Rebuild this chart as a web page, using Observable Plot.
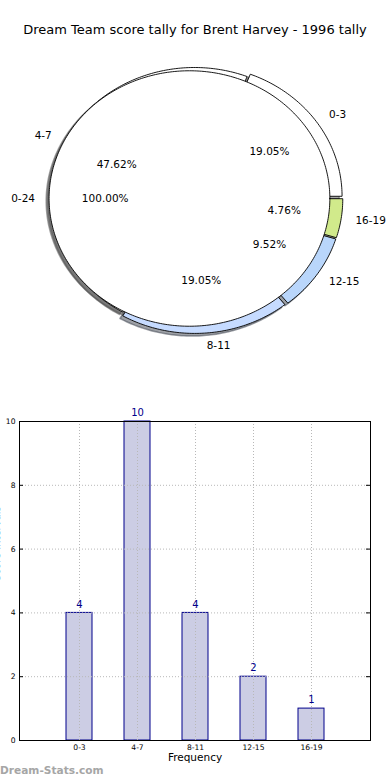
<!DOCTYPE html>
<html><head><meta charset="utf-8">
<script src="https://cdn.jsdelivr.net/npm/d3@7"></script>
<script src="https://cdn.jsdelivr.net/npm/@observablehq/plot@0.6"></script>
<style>
body{margin:0;background:#fff;width:390px;height:780px;position:relative;overflow:hidden;font-family:"DejaVu Sans",sans-serif}
#title{position:absolute;left:0;width:390px;top:21px;text-align:center;font-size:13px;line-height:18px;color:#000;white-space:nowrap}
#pie{position:absolute;left:0;top:0}
#bar{position:absolute;left:0;top:400px}
#wm{position:absolute;left:0;top:764px;font-size:10.6px;line-height:12px;font-weight:bold;color:#a6a6a6}
</style></head><body>
<div id="pie"></div>
<div id="title">Dream Team score tally for Brent Harvey - 1996 tally</div>
<div id="bar"></div>
<div id="wm">Dream-Stats.com</div>
<script>
// ---- data ----
const categories = ["0-3", "4-7", "8-11", "12-15", "16-19"];
const counts = [4, 10, 4, 2, 1];
const innerLabel = "0-24";
const yTicks = [0, 2, 4, 6, 8, 10];
const xLabel = "Frequency";
const yLabel = "Score Intervals";

// ---- style ----
const sliceColors = ["#ffffff", "#ffffff", "#c6dbff", "#b9d6fb", "#d1ea8b"];
const explode = [0.03, 0, 0.03, 0.03, 0.03];
const innerExplode = 0.035, innerRadius = 0.975;
const PX = 144, PY = 131, CX = 194, CY = 198, PH = 370;
const SHX = -0.02 * PX, SHY = 0.02 * PY;

const total = d3.sum(counts);
const rad = Math.PI / 180;
function wedge(ox, oy, r, a0, a1, apex) {
  const pts = [];
  if (apex) pts.push({x: ox, y: oy});
  const n = Math.max(8, Math.ceil((a1 - a0) / 1));
  for (let k = 0; k <= n; k++) {
    const a = (a0 + (a1 - a0) * k / n) * rad;
    pts.push({x: ox + r * Math.cos(a), y: oy + r * Math.sin(a)});
  }
  return pts;
}
function shade(c) {
  const col = d3.rgb(c);
  return d3.rgb(col.r * 0.3, col.g * 0.3, col.b * 0.3).formatHex();
}

let acc = 0;
const slices = categories.map((cat, i) => {
  const a0 = acc / total * 360;
  acc += counts[i];
  const a1 = acc / total * 360;
  const am = (a0 + a1) / 2 * rad;
  const e = explode[i];
  const ox = e * Math.cos(am), oy = e * Math.sin(am);
  return {
    cat, pct: (counts[i] / total * 100).toFixed(2) + "%",
    color: sliceColors[i], pts: wedge(ox, oy, 1, a0, a1, true),
    lx: ox + 1.1 * Math.cos(am), ly: oy + 1.1 * Math.sin(am),
    px: ox + 0.6 * Math.cos(am), py: oy + 0.6 * Math.sin(am)
  };
});
const inner = {
  cat: innerLabel, pct: (100).toFixed(2) + "%",
  pts: wedge(-innerExplode, 0, innerRadius, 0, 360, false),
  lx: -innerExplode - 1.1 * innerRadius, ly: 0,
  px: -innerExplode - 0.6 * innerRadius, py: 0
};

const pieMarks = [];
for (const s of slices) {
  pieMarks.push(Plot.line(s.pts, {x: "x", y: "y", curve: "linear-closed", fill: shade(s.color), fillOpacity: 0.5, stroke: shade(s.color), strokeOpacity: 0.5, dx: SHX, dy: SHY}));
}
pieMarks.push(Plot.line(inner.pts, {x: "x", y: "y", curve: "linear-closed", fill: shade("#ffffff"), fillOpacity: 0.5, stroke: shade("#ffffff"), strokeOpacity: 0.5, dx: SHX, dy: SHY}));
for (const s of slices) {
  pieMarks.push(Plot.line(s.pts, {x: "x", y: "y", curve: "linear-closed", fill: s.color, stroke: "#000", strokeWidth: 0.9}));
}
pieMarks.push(Plot.line(inner.pts, {x: "x", y: "y", curve: "linear-closed", fill: "#ffffff", stroke: "#000", strokeWidth: 0.9}));
const allLab = [...slices, inner];
pieMarks.push(Plot.text(allLab.filter(d => d.lx >= 0), {x: "lx", y: "ly", text: "cat", textAnchor: "start", fill: "#000"}));
pieMarks.push(Plot.text(allLab.filter(d => d.lx < 0), {x: "lx", y: "ly", text: "cat", textAnchor: "end", fill: "#000"}));
pieMarks.push(Plot.text(allLab, {x: "px", y: "py", text: "pct", textAnchor: "middle", fill: "#000"}));

const pie = Plot.plot({
  width: 390, height: PH, margin: 0,
  x: {domain: [-CX / PX, (390 - CX) / PX], axis: null},
  y: {domain: [(CY - PH) / PY, CY / PY], axis: null},
  style: {fontFamily: "DejaVu Sans", fontSize: "10.5px", background: "transparent", overflow: "visible"},
  marks: pieMarks
});
document.getElementById("pie").appendChild(pie);

// ---- bar chart ----
const barData = categories.map((c, i) => ({cat: c, n: counts[i]}));
const bar = Plot.plot({
  width: 390, height: 372,
  marginTop: 21, marginBottom: 32, marginLeft: 19, marginRight: 20,
  x: {domain: categories, type: "band", paddingInner: 0.556, paddingOuter: 0.778, align: 0.5, tickSize: 0, tickPadding: 4, label: null},
  y: {domain: [0, 10], ticks: yTicks, tickSize: 0, tickPadding: 4, label: null},
  style: {fontFamily: "DejaVu Sans", fontSize: "7.6px", color: "#000", background: "transparent", overflow: "visible"},
  marks: [
    Plot.barY(barData, {x: "cat", y: "n", fill: "#cccde4", stroke: "#00008b", strokeWidth: 1}),
    Plot.ruleY(yTicks, {stroke: "#b8b8b8", strokeDasharray: "1,2"}),
    Plot.ruleX(categories, {x: d => d, stroke: "#b8b8b8", strokeDasharray: "1,2"}),
    Plot.ruleY(yTicks, {stroke: "#000", insetRight: 347}),
    Plot.ruleY(yTicks, {stroke: "#000", insetLeft: 347}),
    Plot.text(barData, {x: "cat", y: "n", text: d => String(d.n), dy: -8.5, fill: "#00008b", fontSize: 10}),
    Plot.frame({stroke: "#000"}),
    Plot.text([xLabel], {frameAnchor: "bottom", dy: 20, fontSize: 10.5, fill: "#000"}),
    Plot.text([yLabel], {frameAnchor: "left", rotate: -90, dx: -22.5, fontSize: 10, fill: "#000"})
  ]
});
document.getElementById("bar").appendChild(bar);
</script>
</body></html>
